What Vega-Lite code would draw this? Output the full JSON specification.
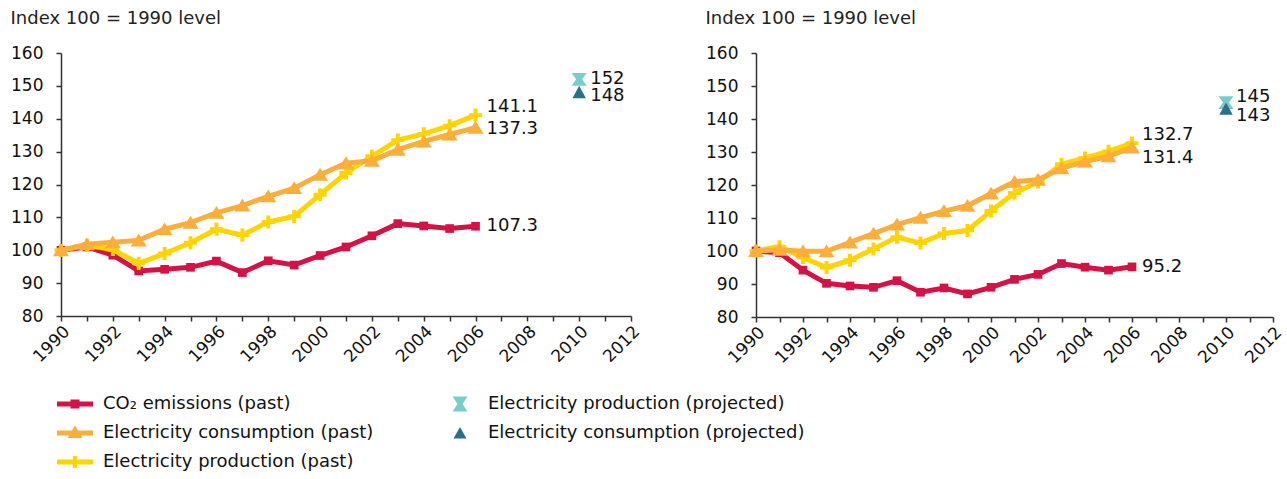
{
  "$schema": "https://vega.github.io/schema/vega-lite/v6.json",
  "padding": {"left": 10, "top": 10, "right": 5, "bottom": 5},
  "datasets": {
    "d": [
      {"p":"A","s":"co2","yr":1990,"v":100},{"p":"A","s":"co2","yr":1991,"v":101},{"p":"A","s":"co2","yr":1992,"v":98.5},{"p":"A","s":"co2","yr":1993,"v":93.7},{"p":"A","s":"co2","yr":1994,"v":94.2},{"p":"A","s":"co2","yr":1995,"v":94.8},{"p":"A","s":"co2","yr":1996,"v":96.7},{"p":"A","s":"co2","yr":1997,"v":93.2},{"p":"A","s":"co2","yr":1998,"v":96.8},{"p":"A","s":"co2","yr":1999,"v":95.5},{"p":"A","s":"co2","yr":2000,"v":98.4},{"p":"A","s":"co2","yr":2001,"v":101},{"p":"A","s":"co2","yr":2002,"v":104.4},{"p":"A","s":"co2","yr":2003,"v":108.1},{"p":"A","s":"co2","yr":2004,"v":107.4},{"p":"A","s":"co2","yr":2005,"v":106.6},{"p":"A","s":"co2","yr":2006,"v":107.3},
      {"p":"A","s":"prod","yr":1990,"v":100},{"p":"A","s":"prod","yr":1991,"v":101.5},{"p":"A","s":"prod","yr":1992,"v":100.2},{"p":"A","s":"prod","yr":1993,"v":96},{"p":"A","s":"prod","yr":1994,"v":99},{"p":"A","s":"prod","yr":1995,"v":102.3},{"p":"A","s":"prod","yr":1996,"v":106.4},{"p":"A","s":"prod","yr":1997,"v":104.6},{"p":"A","s":"prod","yr":1998,"v":108.6},{"p":"A","s":"prod","yr":1999,"v":110.3},{"p":"A","s":"prod","yr":2000,"v":116.9},{"p":"A","s":"prod","yr":2001,"v":123.5},{"p":"A","s":"prod","yr":2002,"v":128.6},{"p":"A","s":"prod","yr":2003,"v":133.5},{"p":"A","s":"prod","yr":2004,"v":135.4},{"p":"A","s":"prod","yr":2005,"v":137.9},{"p":"A","s":"prod","yr":2006,"v":141.1},
      {"p":"A","s":"cons","yr":1990,"v":100},{"p":"A","s":"cons","yr":1991,"v":101.8},{"p":"A","s":"cons","yr":1992,"v":102.4},{"p":"A","s":"cons","yr":1993,"v":103},{"p":"A","s":"cons","yr":1994,"v":106.4},{"p":"A","s":"cons","yr":1995,"v":108.4},{"p":"A","s":"cons","yr":1996,"v":111.4},{"p":"A","s":"cons","yr":1997,"v":113.6},{"p":"A","s":"cons","yr":1998,"v":116.4},{"p":"A","s":"cons","yr":1999,"v":118.9},{"p":"A","s":"cons","yr":2000,"v":123},{"p":"A","s":"cons","yr":2001,"v":126.5},{"p":"A","s":"cons","yr":2002,"v":127.2},{"p":"A","s":"cons","yr":2003,"v":130.6},{"p":"A","s":"cons","yr":2004,"v":133.1},{"p":"A","s":"cons","yr":2005,"v":135.2},{"p":"A","s":"cons","yr":2006,"v":137.3},
      {"p":"A","s":"prodP","yr":2010,"v":152},{"p":"A","s":"consP","yr":2010,"v":148},
      {"p":"B","s":"co2","yr":1990,"v":100},{"p":"B","s":"co2","yr":1991,"v":99.5},{"p":"B","s":"co2","yr":1992,"v":94.2},{"p":"B","s":"co2","yr":1993,"v":90.2},{"p":"B","s":"co2","yr":1994,"v":89.4},{"p":"B","s":"co2","yr":1995,"v":89},{"p":"B","s":"co2","yr":1996,"v":91},{"p":"B","s":"co2","yr":1997,"v":87.5},{"p":"B","s":"co2","yr":1998,"v":88.8},{"p":"B","s":"co2","yr":1999,"v":87},{"p":"B","s":"co2","yr":2000,"v":89},{"p":"B","s":"co2","yr":2001,"v":91.4},{"p":"B","s":"co2","yr":2002,"v":92.9},{"p":"B","s":"co2","yr":2003,"v":96.2},{"p":"B","s":"co2","yr":2004,"v":95.1},{"p":"B","s":"co2","yr":2005,"v":94.2},{"p":"B","s":"co2","yr":2006,"v":95.2},
      {"p":"B","s":"prod","yr":1990,"v":100},{"p":"B","s":"prod","yr":1991,"v":101.3},{"p":"B","s":"prod","yr":1992,"v":98},{"p":"B","s":"prod","yr":1993,"v":95},{"p":"B","s":"prod","yr":1994,"v":97.2},{"p":"B","s":"prod","yr":1995,"v":100.6},{"p":"B","s":"prod","yr":1996,"v":104.2},{"p":"B","s":"prod","yr":1997,"v":102.4},{"p":"B","s":"prod","yr":1998,"v":105.3},{"p":"B","s":"prod","yr":1999,"v":106.2},{"p":"B","s":"prod","yr":2000,"v":112.1},{"p":"B","s":"prod","yr":2001,"v":117.6},{"p":"B","s":"prod","yr":2002,"v":120.9},{"p":"B","s":"prod","yr":2003,"v":126.3},{"p":"B","s":"prod","yr":2004,"v":128.2},{"p":"B","s":"prod","yr":2005,"v":130.2},{"p":"B","s":"prod","yr":2006,"v":132.7},
      {"p":"B","s":"cons","yr":1990,"v":100},{"p":"B","s":"cons","yr":1991,"v":100.4},{"p":"B","s":"cons","yr":1992,"v":99.9},{"p":"B","s":"cons","yr":1993,"v":99.9},{"p":"B","s":"cons","yr":1994,"v":102.6},{"p":"B","s":"cons","yr":1995,"v":105.3},{"p":"B","s":"cons","yr":1996,"v":108},{"p":"B","s":"cons","yr":1997,"v":110.1},{"p":"B","s":"cons","yr":1998,"v":112.1},{"p":"B","s":"cons","yr":1999,"v":113.7},{"p":"B","s":"cons","yr":2000,"v":117.4},{"p":"B","s":"cons","yr":2001,"v":121},{"p":"B","s":"cons","yr":2002,"v":121.6},{"p":"B","s":"cons","yr":2003,"v":125.1},{"p":"B","s":"cons","yr":2004,"v":127.1},{"p":"B","s":"cons","yr":2005,"v":128.7},{"p":"B","s":"cons","yr":2006,"v":131.4},
      {"p":"B","s":"prodP","yr":2010,"v":145},{"p":"B","s":"consP","yr":2010,"v":143}
    ]
  },
  "hconcat": [
    {
      "data": {"name": "d"},
      "transform": [{"filter": "datum.p === 'A'"}],
      "width": 570, "height": 263,
      "title": "Index 100 = 1990 level",
      "encoding": {
        "x": {"field": "yr", "type": "quantitative", "scale": {"domain": [1990, 2012], "nice": false, "zero": false},
              "axis": {"title": null, "values": [1990,1991,1992,1993,1994,1995,1996,1997,1998,1999,2000,2001,2002,2003,2004,2005,2006,2007,2008,2009,2010,2011,2012], "format": "d", "labelExpr": "datum.value % 2 === 0 ? datum.label : ''", "labelAngle": -45, "labelAlign": "right", "labelBaseline": "top", "labelPadding": 2}},
        "y": {"field": "v", "type": "quantitative", "scale": {"domain": [80, 160], "nice": false, "zero": false},
              "axis": {"title": null, "values": [80,90,100,110,120,130,140,150,160], "labelPadding": 13}}
      },
      "layer": [
        {"transform": [{"filter": "datum.s === 'co2'"}], "mark": {"type": "line", "color": "#d41245", "strokeWidth": 5}, "encoding": {}},
        {"transform": [{"filter": "datum.s === 'co2'"}], "mark": {"type": "point", "shape": "square", "size": 75, "color": "#d41245", "filled": true, "opacity": 1, "strokeWidth": 0}, "encoding": {}},
        {"transform": [{"filter": "datum.s === 'prod'"}], "mark": {"type": "line", "color": "#ffd400", "strokeWidth": 5}, "encoding": {}},
        {"transform": [{"filter": "datum.s === 'prod'"}], "mark": {"type": "point", "shape": "M-0.3,-1H0.3V-0.3H1V0.3H0.3V1H-0.3V0.3H-1V-0.3H-0.3Z", "size": 170, "color": "#ffd400", "filled": true, "opacity": 1, "strokeWidth": 0}, "encoding": {}},
        {"transform": [{"filter": "datum.s === 'cons'"}], "mark": {"type": "line", "color": "#fbae3c", "strokeWidth": 5}, "encoding": {}},
        {"transform": [{"filter": "datum.s === 'cons'"}], "mark": {"type": "point", "shape": "M0,-0.85L1,0.75H-1Z", "size": 256, "color": "#fbae3c", "filled": true, "opacity": 1, "strokeWidth": 0}, "encoding": {}},
        {"transform": [{"filter": "datum.s === 'prodP'"}], "mark": {"type": "point", "shape": "M-1,-0.85H1L0.4,0L1,0.85H-1L-0.4,0Z", "size": 225, "color": "#78cdc9", "filled": true, "opacity": 1, "strokeWidth": 0}, "encoding": {}},
        {"transform": [{"filter": "datum.s === 'consP'"}], "mark": {"type": "point", "shape": "M0,-1L1,0.85H-1Z", "size": 180, "color": "#2b6f86", "filled": true, "opacity": 1, "strokeWidth": 0}, "encoding": {}},
        {"transform": [{"filter": "false"}],
         "mark": {"type": "point", "filled": true, "opacity": 1, "size": 400, "strokeWidth": 0},
         "encoding": {
           "color": {"field": "s", "type": "nominal", "scale": {"domain": ["co2","cons","prod","prodP","consP"], "range": ["#d41245","#fbae3c","#ffd400","#78cdc9","#2b6f86"]},
             "legend": {"orient": "none", "legendX": 4, "legendY": 341, "columns": 2, "columnPadding": 76, "rowPadding": 10, "symbolSize": 400, "symbolStrokeWidth": 0, "symbolOpacity": 1, "labelOffset": 18, "labelFontSize": 18, "labelFont": "DejaVu Sans", "labelColor": "#111", "title": null, "labelLimit": 0,
               "labelExpr": "{'co2':'CO₂ emissions (past)','cons':'Electricity consumption (past)','prod':'Electricity production (past)','prodP':'Electricity production (projected)','consP':'Electricity consumption (projected)'}[datum.value]"}},
           "shape": {"field": "s", "type": "nominal", "scale": {"domain": ["co2","cons","prod","prodP","consP"], "range": ["M-1.8,-0.25H1.8V0.25H-1.8Z M-0.45,-0.45H0.45V0.45H-0.45Z","M-1.8,-0.25H1.8V0.25H-1.8Z M0,-0.75L0.75,0.5H-0.75Z","M-1.8,-0.25H1.8V0.25H-1.8Z M-0.2,-0.6H0.2V0.6H-0.2Z","M-0.75,-0.75H0.75L0.25,0L0.75,0.75H-0.75L-0.25,0Z","M0,-0.6L0.65,0.55H-0.65Z"]},
             "legend": {"orient": "none", "legendX": 4, "legendY": 341, "columns": 2, "columnPadding": 76, "rowPadding": 10, "symbolSize": 400, "symbolStrokeWidth": 0, "symbolOpacity": 1, "labelOffset": 18, "labelFontSize": 18, "labelFont": "DejaVu Sans", "labelColor": "#111", "title": null, "labelLimit": 0,
               "labelExpr": "{'co2':'CO₂ emissions (past)','cons':'Electricity consumption (past)','prod':'Electricity production (past)','prodP':'Electricity production (projected)','consP':'Electricity consumption (projected)'}[datum.value]"}}
         }},
        {"transform": [{"filter": "datum.s === 'co2' && datum.yr === 2006"}], "mark": {"type": "text", "align": "left", "dx": 11, "dy": 0, "fontSize": 18, "color": "#111"}, "encoding": {"text": {"field": "v", "type": "quantitative", "format": ".1f"}}},
        {"transform": [{"filter": "datum.s === 'prod' && datum.yr === 2006"}], "mark": {"type": "text", "align": "left", "dx": 11, "dy": -8, "fontSize": 18, "color": "#111"}, "encoding": {"text": {"field": "v", "type": "quantitative", "format": ".1f"}}},
        {"transform": [{"filter": "datum.s === 'cons' && datum.yr === 2006"}], "mark": {"type": "text", "align": "left", "dx": 11, "dy": 1, "fontSize": 18, "color": "#111"}, "encoding": {"text": {"field": "v", "type": "quantitative", "format": ".1f"}}},
        {"transform": [{"filter": "datum.s === 'prodP'"}], "mark": {"type": "text", "align": "left", "dx": 11, "dy": 0, "fontSize": 18, "color": "#111"}, "encoding": {"text": {"field": "v", "type": "quantitative", "format": "d"}}},
        {"transform": [{"filter": "datum.s === 'consP'"}], "mark": {"type": "text", "align": "left", "dx": 11, "dy": 4, "fontSize": 18, "color": "#111"}, "encoding": {"text": {"field": "v", "type": "quantitative", "format": "d"}}}
      ]
    },
    {
      "data": {"name": "d"},
      "transform": [{"filter": "datum.p === 'B'"}],
      "width": 517, "height": 264,
      "title": "Index 100 = 1990 level",
      "encoding": {
        "x": {"field": "yr", "type": "quantitative", "scale": {"domain": [1990, 2012], "nice": false, "zero": false},
              "axis": {"title": null, "values": [1990,1991,1992,1993,1994,1995,1996,1997,1998,1999,2000,2001,2002,2003,2004,2005,2006,2007,2008,2009,2010,2011,2012], "format": "d", "labelExpr": "datum.value % 2 === 0 ? datum.label : ''", "labelAngle": -45, "labelAlign": "right", "labelBaseline": "top", "labelPadding": 2}},
        "y": {"field": "v", "type": "quantitative", "scale": {"domain": [80, 160], "nice": false, "zero": false},
              "axis": {"title": null, "values": [80,90,100,110,120,130,140,150,160], "labelPadding": 13}}
      },
      "layer": [
        {"transform": [{"filter": "datum.s === 'co2'"}], "mark": {"type": "line", "color": "#d41245", "strokeWidth": 5}, "encoding": {}},
        {"transform": [{"filter": "datum.s === 'co2'"}], "mark": {"type": "point", "shape": "square", "size": 75, "color": "#d41245", "filled": true, "opacity": 1, "strokeWidth": 0}, "encoding": {}},
        {"transform": [{"filter": "datum.s === 'prod'"}], "mark": {"type": "line", "color": "#ffd400", "strokeWidth": 5}, "encoding": {}},
        {"transform": [{"filter": "datum.s === 'prod'"}], "mark": {"type": "point", "shape": "M-0.3,-1H0.3V-0.3H1V0.3H0.3V1H-0.3V0.3H-1V-0.3H-0.3Z", "size": 170, "color": "#ffd400", "filled": true, "opacity": 1, "strokeWidth": 0}, "encoding": {}},
        {"transform": [{"filter": "datum.s === 'cons'"}], "mark": {"type": "line", "color": "#fbae3c", "strokeWidth": 5}, "encoding": {}},
        {"transform": [{"filter": "datum.s === 'cons'"}], "mark": {"type": "point", "shape": "M0,-0.85L1,0.75H-1Z", "size": 256, "color": "#fbae3c", "filled": true, "opacity": 1, "strokeWidth": 0}, "encoding": {}},
        {"transform": [{"filter": "datum.s === 'prodP'"}], "mark": {"type": "point", "shape": "M-1,-0.85H1L0.4,0L1,0.85H-1L-0.4,0Z", "size": 225, "color": "#78cdc9", "filled": true, "opacity": 1, "strokeWidth": 0}, "encoding": {}},
        {"transform": [{"filter": "datum.s === 'consP'"}], "mark": {"type": "point", "shape": "M0,-1L1,0.85H-1Z", "size": 180, "color": "#2b6f86", "filled": true, "opacity": 1, "strokeWidth": 0}, "encoding": {}},
        {"transform": [{"filter": "datum.s === 'co2' && datum.yr === 2006"}], "mark": {"type": "text", "align": "left", "dx": 10, "dy": 0, "fontSize": 18, "color": "#111"}, "encoding": {"text": {"field": "v", "type": "quantitative", "format": ".1f"}}},
        {"transform": [{"filter": "datum.s === 'prod' && datum.yr === 2006"}], "mark": {"type": "text", "align": "left", "dx": 10, "dy": -8, "fontSize": 18, "color": "#111"}, "encoding": {"text": {"field": "v", "type": "quantitative", "format": ".1f"}}},
        {"transform": [{"filter": "datum.s === 'cons' && datum.yr === 2006"}], "mark": {"type": "text", "align": "left", "dx": 10, "dy": 11, "fontSize": 18, "color": "#111"}, "encoding": {"text": {"field": "v", "type": "quantitative", "format": ".1f"}}},
        {"transform": [{"filter": "datum.s === 'prodP'"}], "mark": {"type": "text", "align": "left", "dx": 10, "dy": -6, "fontSize": 18, "color": "#111"}, "encoding": {"text": {"field": "v", "type": "quantitative", "format": "d"}}},
        {"transform": [{"filter": "datum.s === 'consP'"}], "mark": {"type": "text", "align": "left", "dx": 10, "dy": 7, "fontSize": 18, "color": "#111"}, "encoding": {"text": {"field": "v", "type": "quantitative", "format": "d"}}}
      ]
    }
  ],
  "config": {
    "view": {"stroke": null},
    "font": "DejaVu Sans",
    "concat": {"spacing": 62},
    "axis": {"labelFontSize": 17, "labelColor": "#111", "labelFont": "DejaVu Sans", "domainColor": "#333", "tickColor": "#333", "tickSize": 5, "domainWidth": 1.5, "tickWidth": 1.5, "grid": false},
    "title": {"fontSize": 18, "fontWeight": "normal", "color": "#222", "anchor": "start", "frame": "bounds", "font": "DejaVu Sans", "offset": 16},
    "text": {"font": "DejaVu Sans"}
  }
}
